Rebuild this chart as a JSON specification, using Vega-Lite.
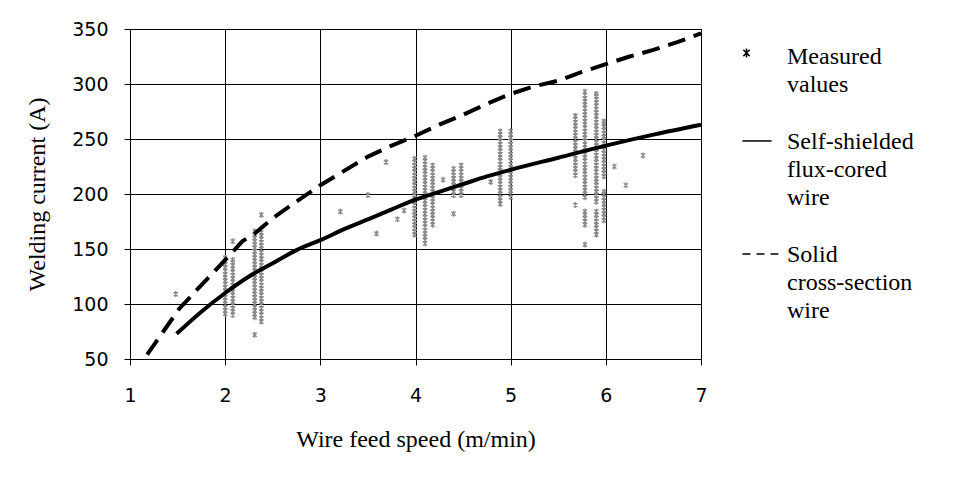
{
  "$schema": "https://vega.github.io/schema/vega-lite/v6.json",
  "width": 571,
  "height": 330,
  "autosize": {"type": "none"},
  "padding": {"left": 130, "top": 29, "right": 252, "bottom": 119},
  "background": "white",
  "config": {
    "view": {"stroke": "black", "strokeWidth": 1},
    "axis": {
      "grid": true, "gridColor": "black", "gridOpacity": 1, "gridWidth": 1,
      "domainColor": "black", "domainWidth": 1, "tickColor": "black", "tickSize": 6, "tickWidth": 1,
      "labelColor": "black", "labelFlush": false,
      "titleFont": "Liberation Serif", "titleFontSize": 24, "titleFontWeight": "normal", "titleColor": "black"
    },
    "style": {"guide-label": {"lineHeight": 28}}
  },
  "layer": [
    {
      "data": {"values": [
        {"speed": 1.48, "current": 109},
        {"speed": 2.0, "current": 91}, {"speed": 2.0, "current": 94}, {"speed": 2.0, "current": 97}, {"speed": 2.0, "current": 100}, {"speed": 2.0, "current": 103}, {"speed": 2.0, "current": 106}, {"speed": 2.0, "current": 109}, {"speed": 2.0, "current": 112}, {"speed": 2.0, "current": 115}, {"speed": 2.0, "current": 118}, {"speed": 2.0, "current": 121}, {"speed": 2.0, "current": 124}, {"speed": 2.0, "current": 127}, {"speed": 2.0, "current": 130}, {"speed": 2.0, "current": 133}, {"speed": 2.0, "current": 136}, {"speed": 2.0, "current": 139}, {"speed": 2.0, "current": 142},
        {"speed": 2.08, "current": 90}, {"speed": 2.08, "current": 93}, {"speed": 2.08, "current": 96}, {"speed": 2.08, "current": 99}, {"speed": 2.08, "current": 102}, {"speed": 2.08, "current": 105}, {"speed": 2.08, "current": 108}, {"speed": 2.08, "current": 111}, {"speed": 2.08, "current": 114}, {"speed": 2.08, "current": 117}, {"speed": 2.08, "current": 120}, {"speed": 2.08, "current": 123}, {"speed": 2.08, "current": 126}, {"speed": 2.08, "current": 129}, {"speed": 2.08, "current": 132}, {"speed": 2.08, "current": 135}, {"speed": 2.08, "current": 138}, {"speed": 2.08, "current": 140}, {"speed": 2.08, "current": 157},
        {"speed": 2.31, "current": 72}, {"speed": 2.31, "current": 88}, {"speed": 2.31, "current": 91}, {"speed": 2.31, "current": 94}, {"speed": 2.31, "current": 97}, {"speed": 2.31, "current": 100}, {"speed": 2.31, "current": 103}, {"speed": 2.31, "current": 106}, {"speed": 2.31, "current": 109}, {"speed": 2.31, "current": 112}, {"speed": 2.31, "current": 115}, {"speed": 2.31, "current": 118}, {"speed": 2.31, "current": 121}, {"speed": 2.31, "current": 124}, {"speed": 2.31, "current": 127}, {"speed": 2.31, "current": 130}, {"speed": 2.31, "current": 133}, {"speed": 2.31, "current": 136}, {"speed": 2.31, "current": 139}, {"speed": 2.31, "current": 142}, {"speed": 2.31, "current": 145}, {"speed": 2.31, "current": 148}, {"speed": 2.31, "current": 151}, {"speed": 2.31, "current": 154}, {"speed": 2.31, "current": 157}, {"speed": 2.31, "current": 160}, {"speed": 2.31, "current": 163}, {"speed": 2.31, "current": 166},
        {"speed": 2.38, "current": 84}, {"speed": 2.38, "current": 87}, {"speed": 2.38, "current": 90}, {"speed": 2.38, "current": 93}, {"speed": 2.38, "current": 96}, {"speed": 2.38, "current": 99}, {"speed": 2.38, "current": 102}, {"speed": 2.38, "current": 105}, {"speed": 2.38, "current": 108}, {"speed": 2.38, "current": 111}, {"speed": 2.38, "current": 114}, {"speed": 2.38, "current": 117}, {"speed": 2.38, "current": 120}, {"speed": 2.38, "current": 123}, {"speed": 2.38, "current": 126}, {"speed": 2.38, "current": 129}, {"speed": 2.38, "current": 132}, {"speed": 2.38, "current": 135}, {"speed": 2.38, "current": 138}, {"speed": 2.38, "current": 141}, {"speed": 2.38, "current": 144}, {"speed": 2.38, "current": 147}, {"speed": 2.38, "current": 150}, {"speed": 2.38, "current": 153}, {"speed": 2.38, "current": 156}, {"speed": 2.38, "current": 159}, {"speed": 2.38, "current": 162}, {"speed": 2.38, "current": 165}, {"speed": 2.38, "current": 181},
        {"speed": 3.21, "current": 184}, {"speed": 3.5, "current": 199}, {"speed": 3.59, "current": 164}, {"speed": 3.69, "current": 229}, {"speed": 3.81, "current": 177}, {"speed": 3.88, "current": 185},
        {"speed": 3.99, "current": 163}, {"speed": 3.99, "current": 166}, {"speed": 3.99, "current": 169}, {"speed": 3.99, "current": 172}, {"speed": 3.99, "current": 175}, {"speed": 3.99, "current": 178}, {"speed": 3.99, "current": 181}, {"speed": 3.99, "current": 184}, {"speed": 3.99, "current": 187}, {"speed": 3.99, "current": 190}, {"speed": 3.99, "current": 193}, {"speed": 3.99, "current": 196}, {"speed": 3.99, "current": 199}, {"speed": 3.99, "current": 202}, {"speed": 3.99, "current": 205}, {"speed": 3.99, "current": 208}, {"speed": 3.99, "current": 211}, {"speed": 3.99, "current": 214}, {"speed": 3.99, "current": 217}, {"speed": 3.99, "current": 220}, {"speed": 3.99, "current": 223}, {"speed": 3.99, "current": 226}, {"speed": 3.99, "current": 229}, {"speed": 3.99, "current": 232},
        {"speed": 4.1, "current": 155}, {"speed": 4.1, "current": 158}, {"speed": 4.1, "current": 161}, {"speed": 4.1, "current": 164}, {"speed": 4.1, "current": 167}, {"speed": 4.1, "current": 170}, {"speed": 4.1, "current": 173}, {"speed": 4.1, "current": 176}, {"speed": 4.1, "current": 179}, {"speed": 4.1, "current": 182}, {"speed": 4.1, "current": 185}, {"speed": 4.1, "current": 188}, {"speed": 4.1, "current": 191}, {"speed": 4.1, "current": 194}, {"speed": 4.1, "current": 197}, {"speed": 4.1, "current": 200}, {"speed": 4.1, "current": 203}, {"speed": 4.1, "current": 206}, {"speed": 4.1, "current": 209}, {"speed": 4.1, "current": 212}, {"speed": 4.1, "current": 215}, {"speed": 4.1, "current": 218}, {"speed": 4.1, "current": 221}, {"speed": 4.1, "current": 224}, {"speed": 4.1, "current": 227}, {"speed": 4.1, "current": 230}, {"speed": 4.1, "current": 233},
        {"speed": 4.18, "current": 172}, {"speed": 4.18, "current": 175}, {"speed": 4.18, "current": 178}, {"speed": 4.18, "current": 181}, {"speed": 4.18, "current": 184}, {"speed": 4.18, "current": 187}, {"speed": 4.18, "current": 190}, {"speed": 4.18, "current": 193}, {"speed": 4.18, "current": 196}, {"speed": 4.18, "current": 199}, {"speed": 4.18, "current": 202}, {"speed": 4.18, "current": 205}, {"speed": 4.18, "current": 208}, {"speed": 4.18, "current": 211}, {"speed": 4.18, "current": 214}, {"speed": 4.18, "current": 217}, {"speed": 4.18, "current": 220}, {"speed": 4.18, "current": 223}, {"speed": 4.18, "current": 226},
        {"speed": 4.29, "current": 213},
        {"speed": 4.4, "current": 182}, {"speed": 4.4, "current": 199}, {"speed": 4.4, "current": 202}, {"speed": 4.4, "current": 205}, {"speed": 4.4, "current": 208}, {"speed": 4.4, "current": 211}, {"speed": 4.4, "current": 214}, {"speed": 4.4, "current": 217}, {"speed": 4.4, "current": 220}, {"speed": 4.4, "current": 223},
        {"speed": 4.48, "current": 199}, {"speed": 4.48, "current": 202}, {"speed": 4.48, "current": 205}, {"speed": 4.48, "current": 208}, {"speed": 4.48, "current": 211}, {"speed": 4.48, "current": 214}, {"speed": 4.48, "current": 217}, {"speed": 4.48, "current": 220}, {"speed": 4.48, "current": 223}, {"speed": 4.48, "current": 226},
        {"speed": 4.79, "current": 211},
        {"speed": 4.89, "current": 191}, {"speed": 4.89, "current": 194}, {"speed": 4.89, "current": 197}, {"speed": 4.89, "current": 200}, {"speed": 4.89, "current": 203}, {"speed": 4.89, "current": 206}, {"speed": 4.89, "current": 209}, {"speed": 4.89, "current": 212}, {"speed": 4.89, "current": 215}, {"speed": 4.89, "current": 218}, {"speed": 4.89, "current": 221}, {"speed": 4.89, "current": 224}, {"speed": 4.89, "current": 227}, {"speed": 4.89, "current": 230}, {"speed": 4.89, "current": 233}, {"speed": 4.89, "current": 236}, {"speed": 4.89, "current": 239}, {"speed": 4.89, "current": 242}, {"speed": 4.89, "current": 245}, {"speed": 4.89, "current": 248}, {"speed": 4.89, "current": 251}, {"speed": 4.89, "current": 254}, {"speed": 4.89, "current": 257},
        {"speed": 5.0, "current": 197}, {"speed": 5.0, "current": 200}, {"speed": 5.0, "current": 203}, {"speed": 5.0, "current": 206}, {"speed": 5.0, "current": 209}, {"speed": 5.0, "current": 212}, {"speed": 5.0, "current": 215}, {"speed": 5.0, "current": 218}, {"speed": 5.0, "current": 221}, {"speed": 5.0, "current": 224}, {"speed": 5.0, "current": 227}, {"speed": 5.0, "current": 230}, {"speed": 5.0, "current": 233}, {"speed": 5.0, "current": 236}, {"speed": 5.0, "current": 239}, {"speed": 5.0, "current": 242}, {"speed": 5.0, "current": 245}, {"speed": 5.0, "current": 248}, {"speed": 5.0, "current": 251}, {"speed": 5.0, "current": 254}, {"speed": 5.0, "current": 257},
        {"speed": 5.68, "current": 190}, {"speed": 5.68, "current": 217}, {"speed": 5.68, "current": 220}, {"speed": 5.68, "current": 223}, {"speed": 5.68, "current": 226}, {"speed": 5.68, "current": 229}, {"speed": 5.68, "current": 232}, {"speed": 5.68, "current": 235}, {"speed": 5.68, "current": 238}, {"speed": 5.68, "current": 241}, {"speed": 5.68, "current": 244}, {"speed": 5.68, "current": 247}, {"speed": 5.68, "current": 250}, {"speed": 5.68, "current": 253}, {"speed": 5.68, "current": 256}, {"speed": 5.68, "current": 259}, {"speed": 5.68, "current": 262}, {"speed": 5.68, "current": 265}, {"speed": 5.68, "current": 268}, {"speed": 5.68, "current": 271},
        {"speed": 5.78, "current": 154}, {"speed": 5.78, "current": 172}, {"speed": 5.78, "current": 175}, {"speed": 5.78, "current": 178}, {"speed": 5.78, "current": 181}, {"speed": 5.78, "current": 184}, {"speed": 5.78, "current": 197}, {"speed": 5.78, "current": 200}, {"speed": 5.78, "current": 203}, {"speed": 5.78, "current": 206}, {"speed": 5.78, "current": 209}, {"speed": 5.78, "current": 212}, {"speed": 5.78, "current": 215}, {"speed": 5.78, "current": 218}, {"speed": 5.78, "current": 221}, {"speed": 5.78, "current": 224}, {"speed": 5.78, "current": 227}, {"speed": 5.78, "current": 230}, {"speed": 5.78, "current": 233}, {"speed": 5.78, "current": 236}, {"speed": 5.78, "current": 239}, {"speed": 5.78, "current": 242}, {"speed": 5.78, "current": 245}, {"speed": 5.78, "current": 248}, {"speed": 5.78, "current": 251}, {"speed": 5.78, "current": 254}, {"speed": 5.78, "current": 257}, {"speed": 5.78, "current": 260}, {"speed": 5.78, "current": 263}, {"speed": 5.78, "current": 266}, {"speed": 5.78, "current": 269}, {"speed": 5.78, "current": 272}, {"speed": 5.78, "current": 275}, {"speed": 5.78, "current": 278}, {"speed": 5.78, "current": 281}, {"speed": 5.78, "current": 284}, {"speed": 5.78, "current": 287}, {"speed": 5.78, "current": 290}, {"speed": 5.78, "current": 293},
        {"speed": 5.9, "current": 163}, {"speed": 5.9, "current": 166}, {"speed": 5.9, "current": 169}, {"speed": 5.9, "current": 172}, {"speed": 5.9, "current": 175}, {"speed": 5.9, "current": 178}, {"speed": 5.9, "current": 181}, {"speed": 5.9, "current": 184}, {"speed": 5.9, "current": 193}, {"speed": 5.9, "current": 196}, {"speed": 5.9, "current": 199}, {"speed": 5.9, "current": 202}, {"speed": 5.9, "current": 205}, {"speed": 5.9, "current": 208}, {"speed": 5.9, "current": 211}, {"speed": 5.9, "current": 214}, {"speed": 5.9, "current": 217}, {"speed": 5.9, "current": 220}, {"speed": 5.9, "current": 223}, {"speed": 5.9, "current": 226}, {"speed": 5.9, "current": 229}, {"speed": 5.9, "current": 232}, {"speed": 5.9, "current": 235}, {"speed": 5.9, "current": 238}, {"speed": 5.9, "current": 241}, {"speed": 5.9, "current": 244}, {"speed": 5.9, "current": 247}, {"speed": 5.9, "current": 250}, {"speed": 5.9, "current": 253}, {"speed": 5.9, "current": 256}, {"speed": 5.9, "current": 259}, {"speed": 5.9, "current": 262}, {"speed": 5.9, "current": 265}, {"speed": 5.9, "current": 268}, {"speed": 5.9, "current": 271}, {"speed": 5.9, "current": 274}, {"speed": 5.9, "current": 277}, {"speed": 5.9, "current": 280}, {"speed": 5.9, "current": 283}, {"speed": 5.9, "current": 286}, {"speed": 5.9, "current": 289}, {"speed": 5.9, "current": 291},
        {"speed": 5.98, "current": 176}, {"speed": 5.98, "current": 179}, {"speed": 5.98, "current": 182}, {"speed": 5.98, "current": 185}, {"speed": 5.98, "current": 188}, {"speed": 5.98, "current": 191}, {"speed": 5.98, "current": 194}, {"speed": 5.98, "current": 197}, {"speed": 5.98, "current": 200}, {"speed": 5.98, "current": 202}, {"speed": 5.98, "current": 216}, {"speed": 5.98, "current": 219}, {"speed": 5.98, "current": 222}, {"speed": 5.98, "current": 225}, {"speed": 5.98, "current": 228}, {"speed": 5.98, "current": 231}, {"speed": 5.98, "current": 234}, {"speed": 5.98, "current": 237}, {"speed": 5.98, "current": 240}, {"speed": 5.98, "current": 243}, {"speed": 5.98, "current": 246}, {"speed": 5.98, "current": 249}, {"speed": 5.98, "current": 252}, {"speed": 5.98, "current": 255}, {"speed": 5.98, "current": 258}, {"speed": 5.98, "current": 261}, {"speed": 5.98, "current": 264}, {"speed": 5.98, "current": 266},
        {"speed": 6.09, "current": 225}, {"speed": 6.21, "current": 208}, {"speed": 6.39, "current": 235}
      ]},
      "mark": {"type": "point", "filled": false, "color": "#8a8a8a", "opacity": 1, "strokeWidth": 1.3, "size": 400, "xOffset": 7, "yOffset": -5.3},
      "encoding": {
        "x": {"field": "speed", "type": "quantitative", "scale": {"domain": [1, 7], "nice": false, "zero": false},
          "axis": {"values": [1, 2, 3, 4, 5, 6, 7], "format": "d", "labelFont": "DejaVu Sans", "labelFontSize": 19, "labelPadding": 21, "title": "Wire feed speed (m/min)", "titlePadding": 22}},
        "y": {"field": "current", "type": "quantitative", "scale": {"domain": [50, 350], "nice": false, "zero": false},
          "axis": {"values": [50, 100, 150, 200, 250, 300, 350], "format": "d", "labelFont": "DejaVu Sans", "labelFontSize": 19, "labelPadding": 16, "title": "Welding current (A)", "titlePadding": 22}},
        "shape": {
          "datum": "Measured values", "type": "nominal",
          "scale": {
            "domain": ["Measured values", "Self-shielded flux-cored wire", "Solid cross-section wire"],
            "range": [
              "M-0.7,0.23L-0.7,0.83M-0.91,0.32L-0.49,0.74M-0.91,0.74L-0.49,0.32",
              "M-0.97,0.73L0.97,0.73",
              "M-0.97,0.73L-0.43,0.73M-0.03,0.73L0.5,0.73M0.9,0.73L1.43,0.73"
            ]
          },
          "legend": {
            "title": null, "orient": "right", "offset": 40, "padding": 0,
            "symbolSize": 900, "symbolStrokeColor": "black", "symbolFillColor": "transparent", "symbolStrokeWidth": 1.5,
            "labelFont": "Liberation Serif, Times New Roman, serif", "labelFontSize": 24, "labelFontWeight": "normal", "labelColor": "black", "labelBaseline": "top",
            "labelOffset": 14, "labelLimit": 300, "rowPadding": 17,
            "labelExpr": "datum.label == 'Measured values' ? ['Measured', 'values'] : datum.label == 'Self-shielded flux-cored wire' ? ['Self-shielded', 'flux-cored', 'wire'] : ['Solid', 'cross-section', 'wire']"
          }
        }
      }
    },
    {
      "data": {"values": [
        {"speed": 1.49, "current": 73}, {"speed": 1.75, "current": 93}, {"speed": 2.0, "current": 110}, {"speed": 2.25, "current": 125}, {"speed": 2.5, "current": 137}, {"speed": 2.75, "current": 149}, {"speed": 3.0, "current": 158}, {"speed": 3.25, "current": 168}, {"speed": 3.5, "current": 177}, {"speed": 3.75, "current": 186}, {"speed": 4.0, "current": 195}, {"speed": 4.25, "current": 202}, {"speed": 4.5, "current": 209}, {"speed": 4.75, "current": 216}, {"speed": 5.0, "current": 222}, {"speed": 5.5, "current": 233}, {"speed": 6.0, "current": 244}, {"speed": 6.5, "current": 254}, {"speed": 7.0, "current": 263}
      ]},
      "mark": {"type": "line", "color": "black", "strokeWidth": 4, "interpolate": "monotone"},
      "encoding": {
        "x": {"field": "speed", "type": "quantitative"},
        "y": {"field": "current", "type": "quantitative"}
      }
    },
    {
      "data": {"values": [
        {"speed": 1.18, "current": 54}, {"speed": 1.35, "current": 75}, {"speed": 1.52, "current": 96}, {"speed": 1.77, "current": 119}, {"speed": 2.0, "current": 140}, {"speed": 2.18, "current": 157}, {"speed": 2.31, "current": 164}, {"speed": 2.5, "current": 178}, {"speed": 2.73, "current": 192}, {"speed": 3.0, "current": 208}, {"speed": 3.25, "current": 221}, {"speed": 3.5, "current": 234}, {"speed": 3.75, "current": 244}, {"speed": 4.0, "current": 253}, {"speed": 4.25, "current": 263}, {"speed": 4.5, "current": 272}, {"speed": 4.75, "current": 282}, {"speed": 5.0, "current": 291}, {"speed": 5.25, "current": 298}, {"speed": 5.5, "current": 303}, {"speed": 5.75, "current": 311}, {"speed": 6.0, "current": 318}, {"speed": 6.25, "current": 325}, {"speed": 6.5, "current": 331}, {"speed": 6.75, "current": 338}, {"speed": 7.0, "current": 346}
      ]},
      "mark": {"type": "line", "color": "black", "strokeWidth": 4, "strokeDash": [18, 9]},
      "encoding": {
        "x": {"field": "speed", "type": "quantitative"},
        "y": {"field": "current", "type": "quantitative"}
      }
    }
  ]
}
